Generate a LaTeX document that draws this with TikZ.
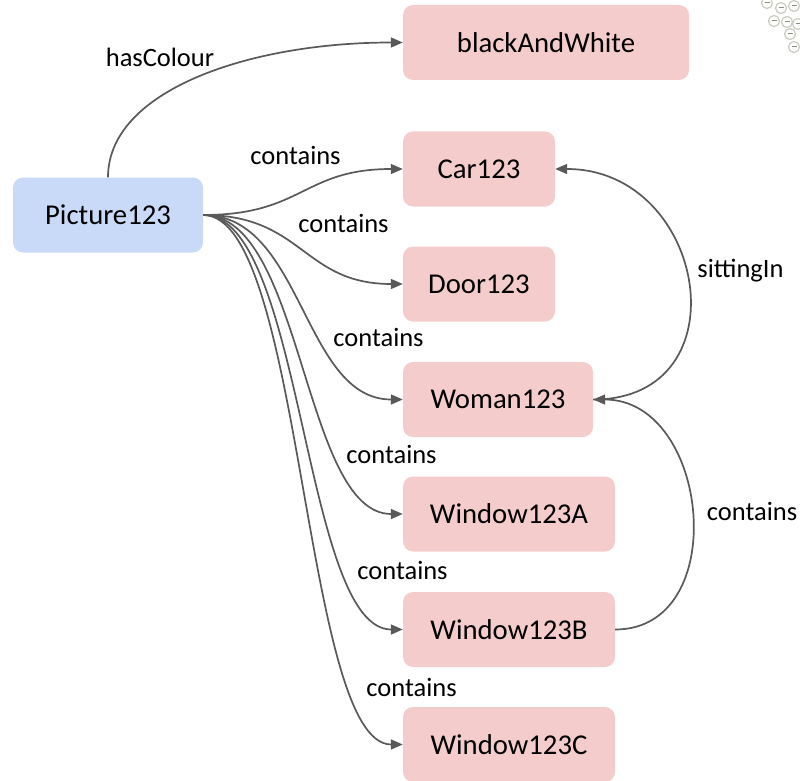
\documentclass[tikz,border=0pt]{standalone}
\usepackage{fontspec}
\setmainfont{Carlito}
\usetikzlibrary{arrows.meta}
\definecolor{pinkbox}{HTML}{F4CCCC}
\definecolor{bluebox}{HTML}{C9DAF8}
\definecolor{edgegray}{HTML}{595959}
\definecolor{decogray}{HTML}{C8CCC0}
\begin{document}
\begin{tikzpicture}[x=1pt,y=-1pt,
  box/.style={rounded corners=10pt, minimum height=75pt, inner sep=0pt,
    font=\fontsize{28.7}{34}\selectfont, text=black},
  pinknode/.style={box, fill=pinkbox},
  bluenode/.style={box, fill=bluebox},
  edge/.style={draw=edgegray, line width=1.7pt, -{Triangle[length=12pt,width=10pt]}},
  lbl/.style={font=\fontsize{26.5}{30}\selectfont, text=black, inner sep=0pt},
  deco/.style={draw=decogray, line width=1.2pt, fill=white}]
\useasboundingbox (0,0) rectangle (800,781);
% faint decoration in the top right corner
\foreach \cx/\cy in {767/3,781/8,794/6,774/21,787/22,798/24,790/34,794/47}{
  \draw[deco] (\cx,\cy) circle (5.5pt);
  \draw[decogray!70!black, line width=1pt] (\cx-2.5,\cy) -- (\cx+2.5,\cy);
}
% nodes
\node[bluenode, minimum width=190pt] (pic) at (108,215) {Picture123};
\node[pinknode, minimum width=286pt] (bw) at (546,42.5) {blackAndWhite};
\node[pinknode, minimum width=152pt] (car) at (479,169) {Car123};
\node[pinknode, minimum width=152pt] (door) at (479,284) {Door123};
\node[pinknode, minimum width=190pt] (woman) at (498,399.5) {Woman123};
\node[pinknode, minimum width=212pt] (wa) at (509,514) {Window123A};
\node[pinknode, minimum width=212pt] (wb) at (509,629.5) {Window123B};
\node[pinknode, minimum width=212pt] (wc) at (509,744.5) {Window123C};
% edges from Picture123
\draw[edge] (pic.north) .. controls +(0,-87) and +(-153,0) .. (bw.west);
\draw[edge] (pic.east) .. controls +(100,0) and +(-100,0) .. (car.west);
\draw[edge] (pic.east) .. controls +(100,0) and +(-100,0) .. (door.west);
\draw[edge] (pic.east) .. controls +(100,0) and +(-100,0) .. (woman.west);
\draw[edge] (pic.east) .. controls +(100,0) and +(-100,0) .. (wa.west);
\draw[edge] (pic.east) .. controls +(100,0) and +(-100,0) .. (wb.west);
\draw[edge] (pic.east) .. controls +(100,0) and +(-100,0) .. (wc.west);
% right side edges
\draw[edge] (woman.east) .. controls +(152,0) and +(152,0) .. (car.east);
\draw[edge] (wb.east) .. controls +(117,0) and +(117,0) .. (woman.east);
% labels
\node[lbl] (l0) at (160,57) {hasColour};
\node[lbl] (l1) at (295.5,155) {contains};
\node[lbl] (l2) at (343.5,223) {contains};
\node[lbl] (l3) at (378.5,337) {contains};
\node[lbl] (l4) at (391.5,454) {contains};
\node[lbl] (l5) at (402.5,570) {contains};
\node[lbl] (l6) at (411.5,687) {contains};
\node[lbl] (l7) at (740.5,271) {sittingIn};
\node[lbl] (l8) at (752,511) {contains};
\end{tikzpicture}
\end{document}
